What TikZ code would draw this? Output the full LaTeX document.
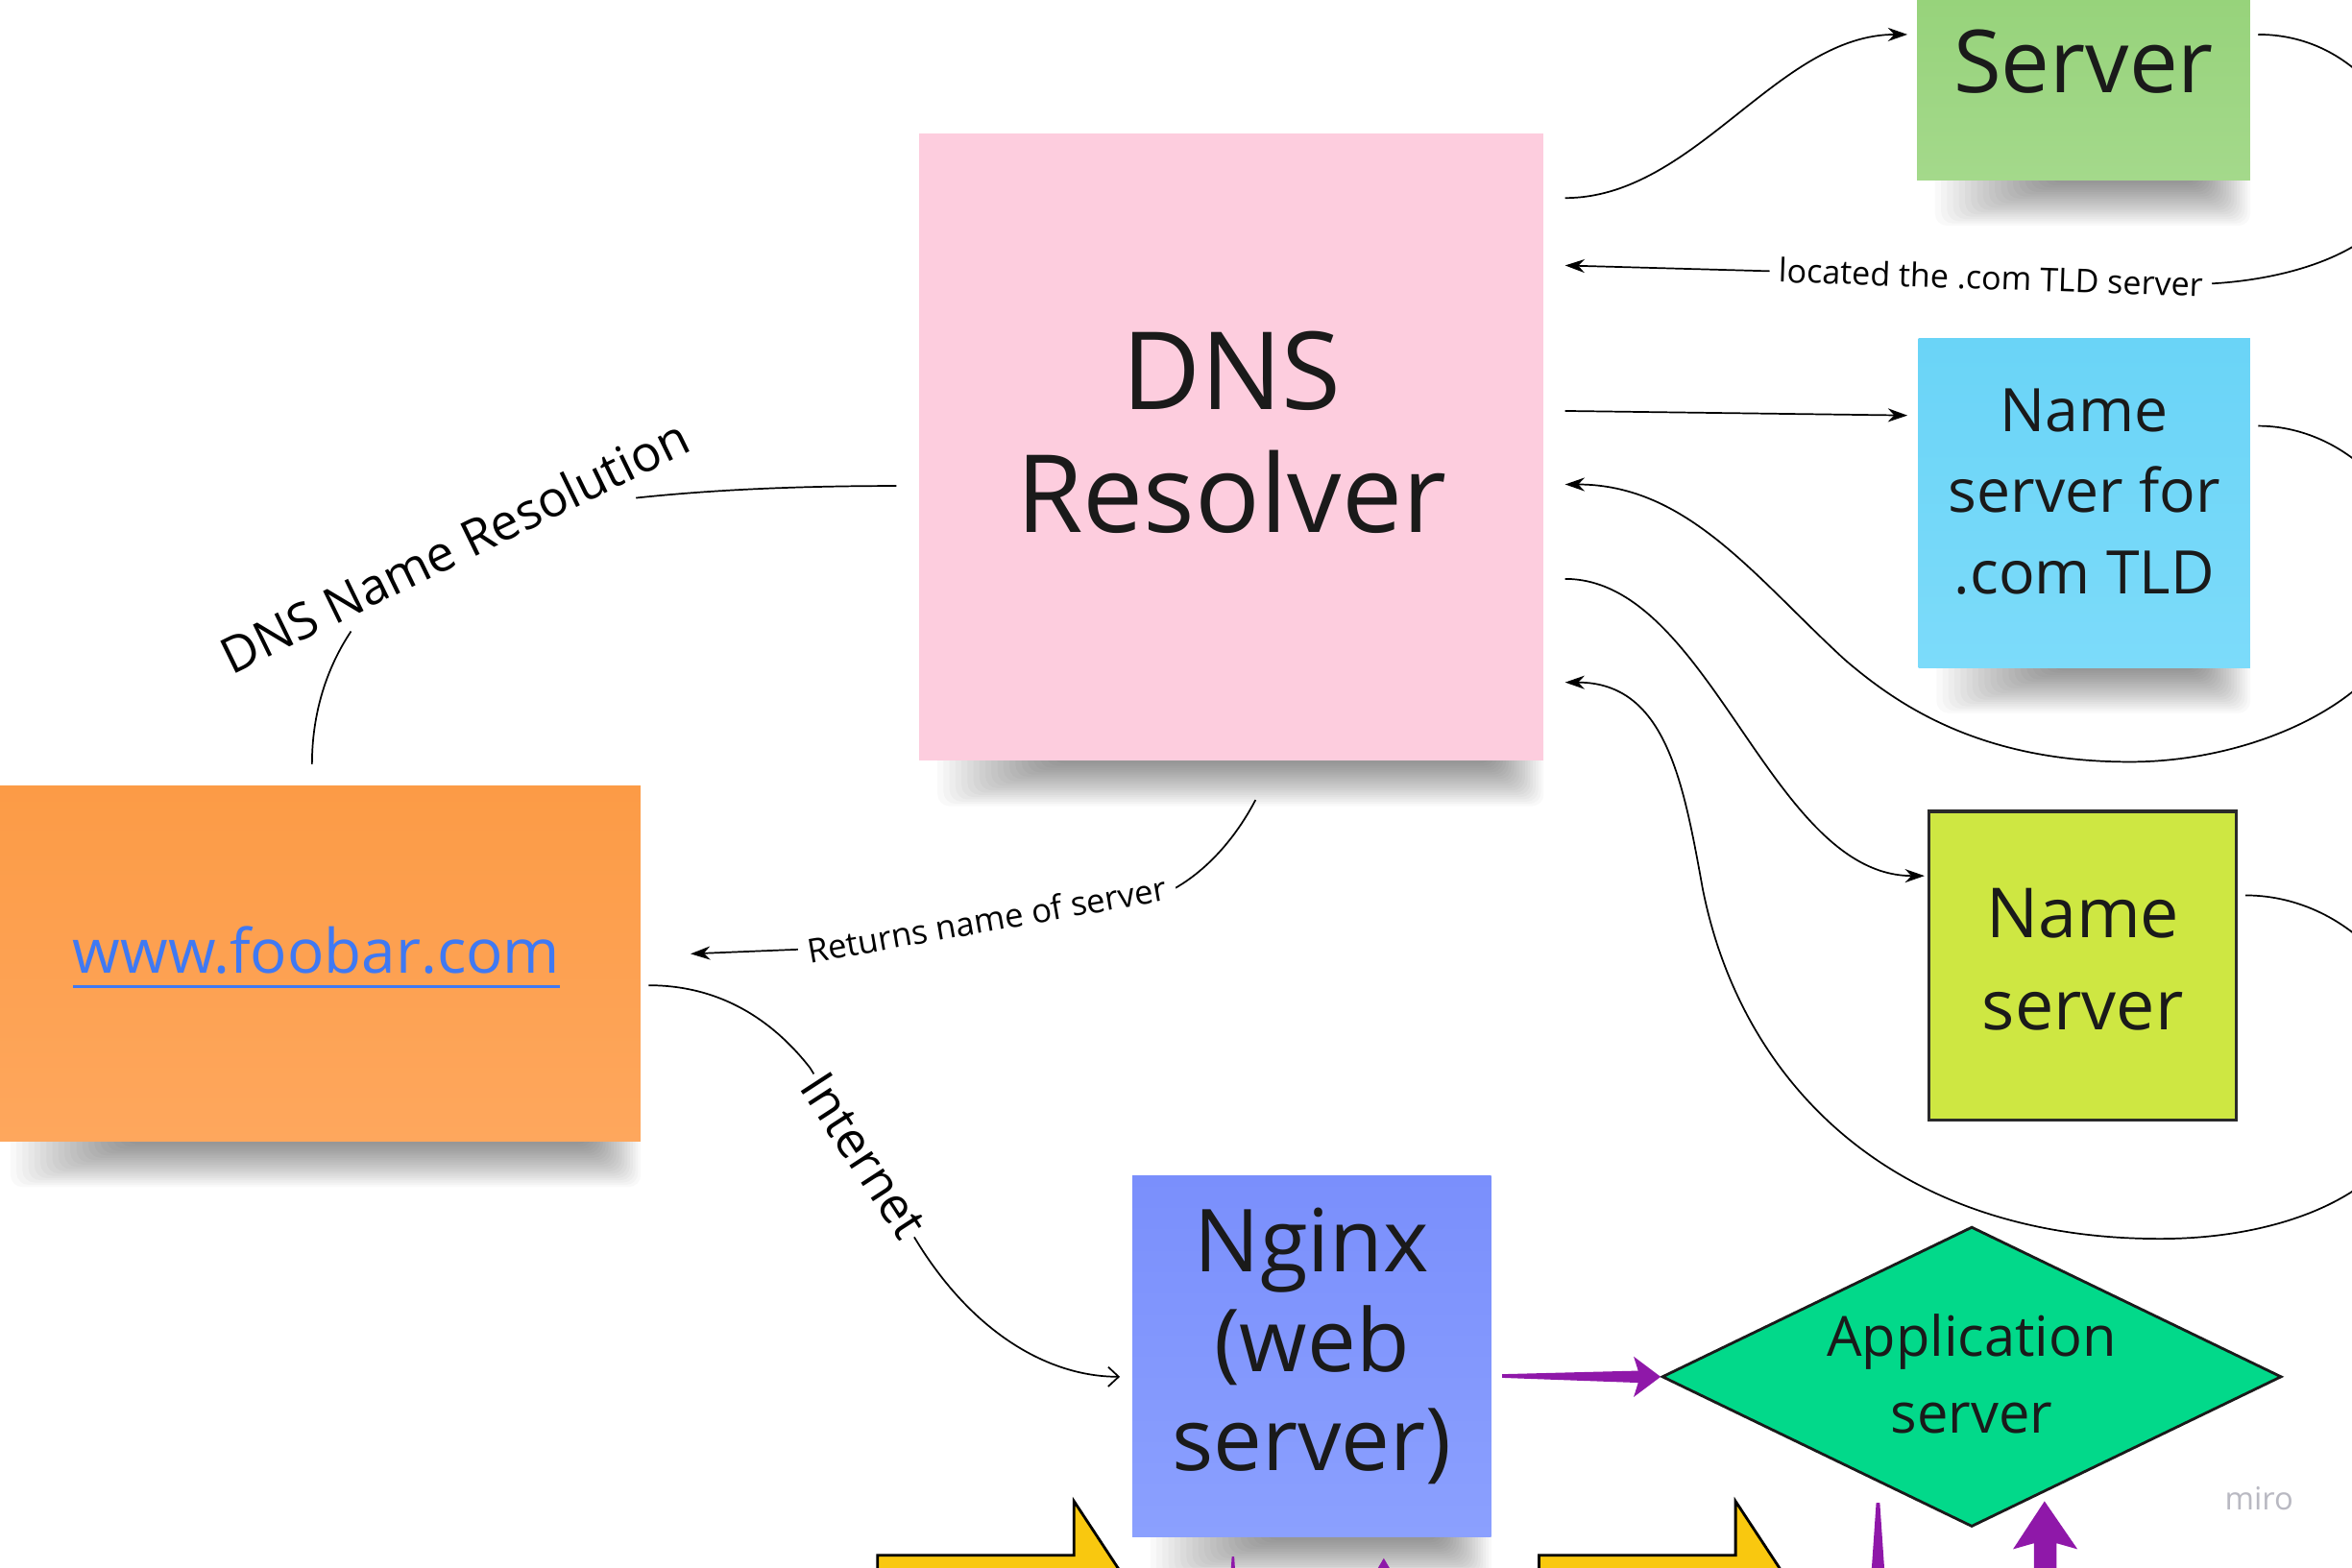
\documentclass[tikz,border=0pt]{standalone}
\usepackage{fontspec}
\setmainfont{Open Sans}
\usetikzlibrary{arrows.meta,calc,shapes.geometric}
\definecolor{ink}{HTML}{1A1A1A}
\definecolor{srvTop}{HTML}{93D176}
\definecolor{srvBot}{HTML}{A4D98B}
\definecolor{resPink}{HTML}{FDCDDE}
\definecolor{tldTop}{HTML}{6AD4F7}
\definecolor{tldBot}{HTML}{7CDBFA}
\definecolor{nsFill}{HTML}{CEE742}
\definecolor{nsBorder}{HTML}{2A2A2A}
\definecolor{webTop}{HTML}{FC9B46}
\definecolor{webBot}{HTML}{FEA75D}
\definecolor{linkBlue}{HTML}{3F79F3}
\definecolor{ngxTop}{HTML}{7A8FFC}
\definecolor{ngxBot}{HTML}{8BA0FE}
\definecolor{appGreen}{HTML}{02D98A}
\definecolor{purp}{HTML}{8F18A9}
\definecolor{yel}{HTML}{F9C80F}
\definecolor{miroGray}{HTML}{B9B9C2}
\newcommand\linkul[1]{\setbox0\hbox{#1}\rlap{\rule[-5pt]{\wd0}{1.25pt}}\box0}
\newcommand\noteshadow[3]{%
  \foreach \k in {1,...,20}{%
    \fill[black,opacity=0.025,rounded corners=4pt] ({#1+8+4*\k},{#3-20}) rectangle ({#2+2-1.8*\k},{#3+32-1.5*\k});
  }%
}
\begin{document}
\begin{tikzpicture}[x=0.5pt,y=-0.5pt,
  note/.style={rectangle, inner sep=0pt, align=center, text=ink},
  lbl/.style={fill=white, inner ysep=1pt, inner xsep=3pt, text=black, font=\fontsize{10.9pt}{13pt}\selectfont},
  conn/.style={line width=0.55pt, draw=black},
  arr/.style={conn, -{Stealth[length=6.5pt,width=4.5pt]}},
  openarr/.style={conn, -{Straight Barb[length=3.5pt,width=6.5pt]}},
  yelarrow/.style={fill=yel, draw=black, line width=0.9pt, line join=miter}
]
\fill[white] (0,0) rectangle (1568,1045);
\useasboundingbox (0,0) rectangle (1568,1045);

% partial shapes at the bottom edge
\filldraw[yelarrow] (585,1037) -- (716,1037) -- (716,1001) -- (768,1080) -- (716,1159) -- (716,1123) -- (585,1123) -- cycle;
\filldraw[yelarrow] (1026,1037) -- (1157,1037) -- (1157,1001) -- (1209,1080) -- (1157,1159) -- (1157,1123) -- (1026,1123) -- cycle;

% shadows
\noteshadow{1278}{1500}{120}
\noteshadow{613}{1029}{507}
\noteshadow{1279}{1500}{445}
\noteshadow{-5}{427}{761}
\noteshadow{755}{994}{1025}

% notes
\node[note, minimum width=111pt, minimum height=79pt, top color=srvTop, bottom color=srvBot,
      font=\fontsize{29pt}{34pt}\selectfont] (srv) at (1389,41) {Server};
\node[note, minimum width=208pt, minimum height=209pt, fill=resPink, text depth=10pt,
      font=\fontsize{36pt}{41pt}\selectfont] (res) at (821,298) {DNS\\Resolver};
\node[note, minimum width=110.5pt, minimum height=109.5pt, top color=tldTop, bottom color=tldBot, text depth=8pt,
      font=\fontsize{20pt}{27pt}\selectfont] (tld) at (1389.5,335.5) {Name\\server for\\.com TLD};
\node[note, draw=nsBorder, line width=1pt, minimum width=102.5pt, minimum height=103pt, fill=nsFill, text depth=4.5pt,
      font=\fontsize{23pt}{30.5pt}\selectfont] (ns) at (1388.5,644) {Name\\server};
\node[note, minimum width=216pt, minimum height=118.5pt, top color=webTop, bottom color=webBot, text depth=9pt,
      text=linkBlue, font=\fontsize{20.4pt}{24pt}\selectfont] (web) at (211,642.5) {\linkul{www.foobar.com}};
\node[note, minimum width=119.5pt, minimum height=120.5pt, top color=ngxTop, bottom color=ngxBot, text depth=11.5pt,
      font=\fontsize{29pt}{33pt}\selectfont] (ngx) at (874.5,904.5) {Nginx\\(web\\server)};
\node[diamond, draw=ink, line width=0.9pt, fill=appGreen, minimum width=206.5pt, minimum height=100pt,
      inner sep=0pt] (app) at (1314.5,918) {};
\node[align=center, text=ink, font=\fontsize{18.5pt}{25.5pt}\selectfont] (apptxt) at ([yshift=1pt]app.center) {Application\\server};

% connectors
\draw[arr] ([shift={(14,-166)}]res.east) .. controls (1130,132) and (1185,23) .. ([shift={(-6,-18)}]srv.west);
\draw[arr] ([shift={(5,-18)}]srv.east) .. controls (1570,23) and (1605,80) .. (1605,110)
   .. controls (1605,160) and (1540,185) .. (1476,189)
   -- node[lbl, pos=0.344, rotate=-2] (lblB) {located the .com TLD server} ([shift={(14,-121)}]res.east);
\draw[arr] ([shift={(14,-24)}]res.east) -- ([shift={(-7,-58.5)}]tld.west);
\draw[arr] ([shift={(5,-51.5)}]tld.east) .. controls (1560,284) and (1610,330) .. (1610,385)
   .. controls (1610,460) and (1510,508) .. (1420,508)
   .. controls (1320,508) and (1265,470) .. (1230,440)
   .. controls (1170,385) and (1125,323) .. ([shift={(14,25)}]res.east);
\draw[arr] ([shift={(14,88)}]res.east) .. controls (1140,386) and (1180,584) .. ([shift={(-2,-60)}]ns.west);
\draw[arr] ([shift={(5,-47)}]ns.east) .. controls (1560,597) and (1615,650) .. (1615,715)
   .. controls (1615,790) and (1530,826) .. (1440,826)
   .. controls (1260,826) and (1160,720) .. (1135,592)
   .. controls (1122,520) and (1110,455) .. ([shift={(14,157)}]res.east);
\draw[conn] ([shift={(-3,-14)}]web.north) .. controls (208,475) and (218,445) .. (234,421)
   (424,332) .. controls (480,326) and (540,324) .. ([shift={(-15,26)}]res.west);
\node[rotate=26, inner sep=0pt, font=\fontsize{16.6pt}{19pt}\selectfont] (lblA) at (303,364) {DNS Name Resolution};
\draw[arr] ([shift={(16,26)}]res.south) .. controls (822,562) and (802,582) .. (782,593)
   -- node[lbl, rotate=10, font=\fontsize{11.1pt}{13pt}\selectfont] (lblC) {Returns name of server} (534,633) -- ([shift={(33,-6.5)}]web.east);
\draw[openarr] ([shift={(5,14.5)}]web.east) .. controls (480,657) and (515,680) .. (540,712)
   -- node[lbl, rotate=-57, inner xsep=1pt, font=\fontsize{16.5pt}{19pt}\selectfont] (lblD) {Internet} (612,829)
   .. controls (650,890) and (700,918) .. ([shift={(-8,13.5)}]ngx.west);

% thick purple connector
\fill[purp] ([shift={(7,11.8)}]ngx.east) -- ([shift={(-15,-4)}]app.west) -- ([shift={(-18,-13.5)}]app.west)
   -- (app.west) -- ([shift={(-18,13.5)}]app.west) -- ([shift={(-15,4)}]app.west)
   -- ([shift={(7,14.2)}]ngx.east) -- cycle;

% partial purple arrows at the bottom edge
\fill[purp] (1250.8,1002) -- (1253.2,1002) -- (1256.5,1050) -- (1247.5,1050) -- cycle;
\fill[purp] (1356,1050) -- (1356,1029) -- (1342,1033) -- (1363,1001) -- (1385,1033) -- (1371,1029) -- (1371,1050) -- cycle;
\fill[purp] (821.2,1038) -- (822.8,1038) -- (823.6,1050) -- (820.4,1050) -- cycle;
\fill[purp] (922.5,1039) -- (929,1050) -- (916,1050) -- cycle;

\node[text=miroGray, font=\fontsize{10.5pt}{12pt}\selectfont] (miro) at (1506,999) {miro};
\end{tikzpicture}
\end{document}
